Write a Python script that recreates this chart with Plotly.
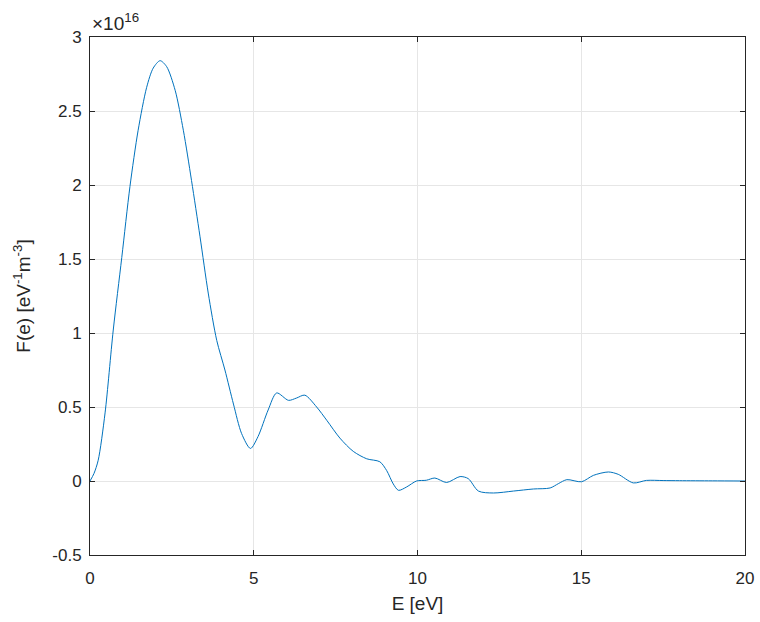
import plotly.graph_objects as go

# Energy E [eV] and F(e) in units of 1e16 eV^-1 m^-3
E = [0.0, 0.12, 0.25, 0.46, 0.71, 0.97, 1.22, 1.47, 1.73, 1.93, 2.14, 2.34, 2.60, 2.85,
     3.10, 3.36, 3.61, 3.87, 4.12, 4.38, 4.63, 4.90, 5.13, 5.44, 5.70, 6.06, 6.30, 6.56,
     6.92, 7.23, 7.63, 8.04, 8.45, 8.85, 9.06, 9.26, 9.42, 9.67, 9.97, 10.27, 10.53,
     10.89, 11.30, 11.55, 11.86, 12.32, 12.93, 13.54, 14.05, 14.30, 14.56, 15.01, 15.37,
     15.83, 16.13, 16.59, 16.99, 17.5, 18.0, 19.0, 20.0]
F = [0.0, 0.05, 0.14, 0.46, 1.02, 1.51, 1.99, 2.37, 2.66, 2.79, 2.84, 2.80, 2.64, 2.37,
     2.03, 1.65, 1.27, 0.95, 0.75, 0.52, 0.32, 0.22, 0.30, 0.48, 0.595, 0.545, 0.56, 0.58,
     0.50, 0.41, 0.29, 0.20, 0.15, 0.13, 0.07, -0.02, -0.063, -0.04, 0.0, 0.005, 0.02,
     -0.01, 0.03, 0.016, -0.068, -0.081, -0.068, -0.054, -0.047, -0.018, 0.009, -0.005, 0.038,
     0.061, 0.045, -0.013, 0.004, 0.003, 0.002, 0.001, 0.0]

x_ticks = [0, 5, 10, 15, 20]
y_ticks = [-0.5, 0, 0.5, 1, 1.5, 2, 2.5, 3]
y_tick_text = ["-0.5", "0", "0.5", "1", "1.5", "2", "2.5", "3"]

font_family = "Liberation Sans, Arial, Helvetica, sans-serif"
txt = "#262626"

fig = go.Figure()
fig.add_trace(go.Scatter(
    x=E, y=F, mode="lines",
    line=dict(color="#0072BD", width=1, shape="spline", smoothing=0.8),
    showlegend=False, hoverinfo="skip"))

axis_common = dict(
    showline=True, linecolor=txt, linewidth=1, mirror="ticks",
    ticks="inside", ticklen=5, tickcolor=txt,
    showgrid=True, gridcolor="#e6e6e6", gridwidth=1,
    zeroline=False, automargin=False,
    tickfont=dict(family=font_family, size=17, color=txt),
)

fig.update_layout(
    width=760, height=622,
    margin=dict(l=90, r=15, t=37, b=67),
    paper_bgcolor="white", plot_bgcolor="white",
    font=dict(family=font_family, color=txt, size=17),
    xaxis=dict(range=[0, 20], tickvals=x_ticks, ticklabelstandoff=8,
               title=dict(text="E [eV]", font=dict(size=19, family=font_family, color=txt), standoff=9),
               **axis_common),
    yaxis=dict(range=[-0.5, 3], tickvals=y_ticks, ticktext=y_tick_text, ticklabelstandoff=4,
               title=dict(text="F(e) [eV<sup>-1</sup>m<sup>-3</sup>]",
                          font=dict(size=19, family=font_family, color=txt), standoff=16),
               **axis_common),
    annotations=[dict(
        text="×10<sup>16</sup>", xref="paper", yref="paper", x=0, y=1,
        xanchor="left", yanchor="bottom", showarrow=False, yshift=1,
        font=dict(size=19, family=font_family, color=txt))],
)

fig.write_html("out.html", config={"displayModeBar": False},
               post_script="document.body.style.margin='0';document.body.style.overflow='hidden';")
